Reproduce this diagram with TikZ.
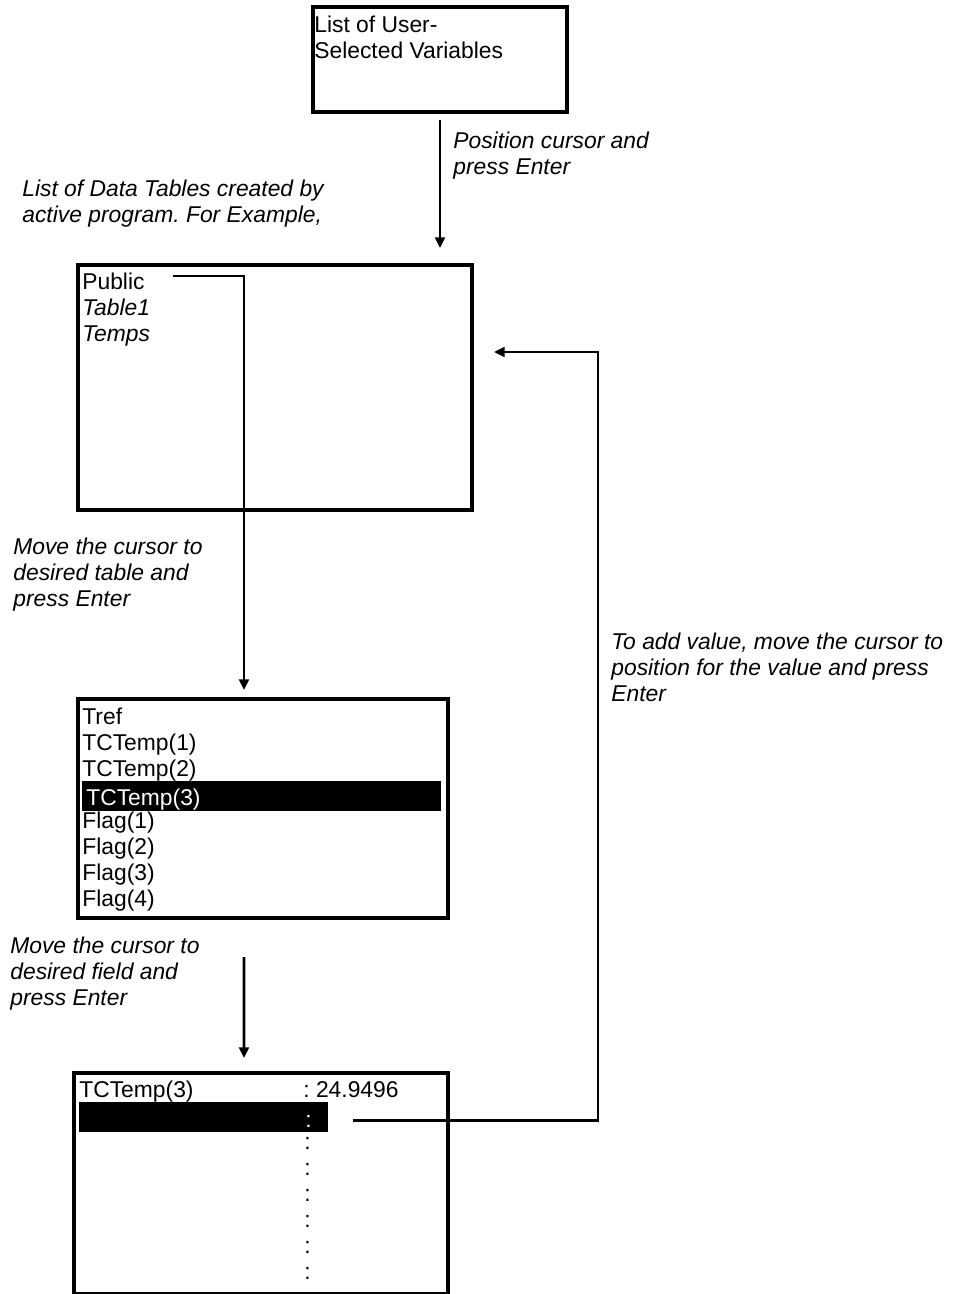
\documentclass[tikz,border=0pt]{standalone}
\usepackage{fontspec}
\setmainfont{Liberation Sans}
\usepackage{tikz}
\usetikzlibrary{
  arrows.meta,
  positioning
}
\frenchspacing
\tikzset{
  screenBox/.style={
    rectangle,
    draw=black,
    line width=2.3pt,
    inner sep=0pt,
    anchor=north west
  },
  cursorBar/.style={
    rectangle,
    fill=black,
    inner sep=0pt,
    anchor=north west
  },
  listText/.style={
    anchor=base west,
    inner sep=0pt,
    font=\fontsize{13pt}{14.74pt}\selectfont
  },
  hintText/.style={
    anchor=north west,
    inner sep=0pt,
    align=left,
    font=\fontsize{13pt}{14.74pt}\selectfont\itshape
  },
  flowArrow/.style={
    -{Triangle[length=6pt,width=5.5pt]},
    line width=1.5pt,
    draw=black
  }
}

\begin{document}
\begin{tikzpicture}[x=0.02cm, y=-0.02cm]
  \useasboundingbox (0,0) rectangle (957,1294);

  % screens
  \node[screenBox, minimum width=5.08cm, minimum height=2.1cm]
    (userBox) at (311,5) {};
  \node[screenBox, minimum width=7.88cm, minimum height=4.9cm]
    (tablesBox) at (76,263) {};
  \node[screenBox, minimum width=7.4cm, minimum height=4.38cm]
    (fieldBox) at (76,697) {};
  \node[screenBox, minimum width=7.48cm, minimum height=4.42cm]
    (valueBox) at (72,1071) {};

  % user variables
  \node[listText] (userLine1) at (314,33) {List of User-};
  \node[listText] (userLine2) at (314,59) {Selected Variables};

  % data tables
  \node[listText] (publicItem) at (82,289) {Public};
  \node[listText] (table1Item) at (82,315) {\itshape Table1};
  \node[listText] (tempsItem) at (82,341) {\itshape Temps};

  % fields of the table
  \node[listText] (trefItem) at (82,724) {Tref};
  \node[listText] (tc1Item) at (82,750) {TCTemp(1)};
  \node[listText] (tc2Item) at (82,776) {TCTemp(2)};
  \node[cursorBar, minimum width=7.18cm, minimum height=0.6cm]
    (tableBar) at (82,781) {};
  \node[listText, text=white] (tc3Item) at (86,805) {TCTemp(3)};
  \node[listText] (flag1Item) at (82,828) {Flag(1)};
  \node[listText] (flag2Item) at (82,854) {Flag(2)};
  \node[listText] (flag3Item) at (82,880) {Flag(3)};
  \node[listText] (flag4Item) at (82,906) {Flag(4)};

  % field value
  \node[listText] (fieldName) at (79,1097) {TCTemp(3)};
  \node[listText] (fieldValue) at (303,1097) {: 24.9496};
  \node[cursorBar, minimum width=4.98cm, minimum height=0.6cm]
    (selBar) at (79,1102) {};
  \node[listText, text=white] (selColon) at (305,1127) {:};
  \foreach \yy in {1149,1175,1201,1227,1253,1279}
    \node[listText] (colon\yy) at (304,\yy) {:};

  % hints
  \node[hintText] (hintPosition) at (453,132)
    {Position cursor and\\press Enter};
  \node[hintText] (hintTables) at (22,180)
    {List of Data Tables created by\\active program. For Example,};
  \node[hintText] (hintTable) at (13,538)
    {Move the cursor to\\desired table and\\press Enter};
  \node[hintText] (hintAdd) at (611,633)
    {To add value, move the cursor to\\position for the value and press\\Enter};
  \node[hintText] (hintField) at (10,937)
    {Move the cursor to\\desired field and\\press Enter};

  \coordinate (returnCorner) at (598,352);
  \coordinate (returnTip) at (494,352);

  \draw[flowArrow] ([yshift=-0.12cm]userBox.south)
    -- ([yshift=0.3cm]userBox.south |- tablesBox.north);
  \draw[flowArrow] ([xshift=0.56cm,yshift=0.1cm]publicItem.east)
    -| ([xshift=-0.38cm,yshift=0.14cm]fieldBox.north);
  \draw[flowArrow] ([xshift=-0.38cm,yshift=-0.74cm]fieldBox.south)
    -- ([xshift=-0.34cm,yshift=0.26cm]valueBox.north);
  \draw[flowArrow] ([xshift=0.48cm,yshift=-0.06cm]selBar.east)
    -| (returnCorner) -- (returnTip);
\end{tikzpicture}
\end{document}
